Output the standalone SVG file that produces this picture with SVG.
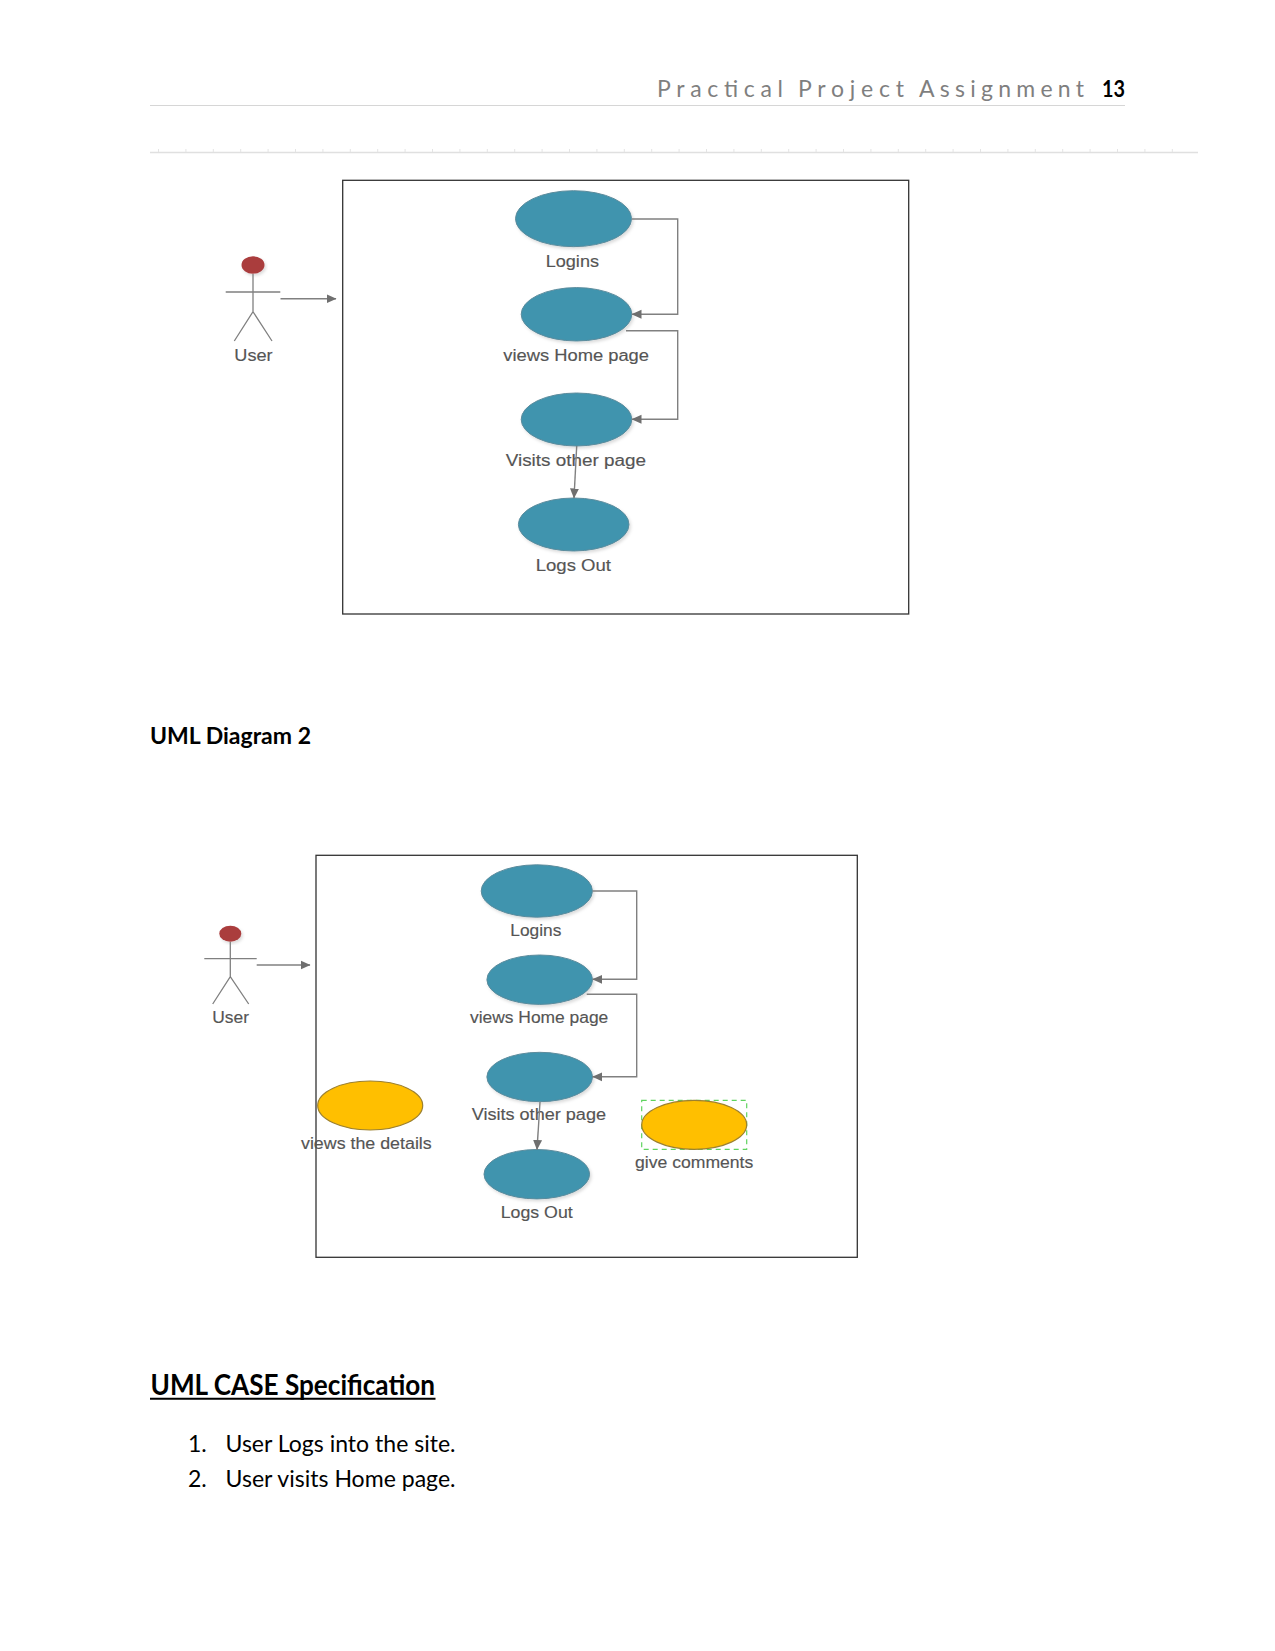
<svg xmlns="http://www.w3.org/2000/svg" width="1275" height="1651" viewBox="0 0 1275 1651">
  <style>
    .page { font-family: "Lato", "Liberation Sans", sans-serif; fill: #000; }
    .bold { font-weight: 700; }
    .head-text { fill: #7f7f7f; font-size: 23px; }
    .lbl { font-family: "Liberation Sans", Arial, sans-serif; font-size: 16px; fill: #555; stroke: #555; stroke-width: 0.15; }
    .frame { fill: #fff; stroke: #333; stroke-width: 1.3; }
    .uc { fill: #3f94ae; stroke: #5b8b9c; stroke-width: 1; filter: url(#soft); }
    .uy { fill: #ffbf00; stroke: #9c8030; stroke-width: 1.2; }
    .head { fill: #aa3c3e; filter: url(#soft); }
    .stick { fill: none; stroke: #808080; stroke-width: 1.3; }
    .wire { fill: none; stroke: #808080; stroke-width: 1.4; marker-end: url(#tip); }
    .rule { stroke: #d6d6d6; stroke-width: 1.2; }
  </style>
  <defs>
    <marker id="tip" markerUnits="userSpaceOnUse" markerWidth="11" markerHeight="10" refX="9.5" refY="5" orient="auto">
      <path d="M0 0.5 L10 5 L0 9.5 Z" fill="#6f6f6f"/>
    </marker>
    <filter id="soft" x="-10%" y="-10%" width="125%" height="130%">
      <feDropShadow dx="1.5" dy="2" stdDeviation="1.5" flood-color="#000" flood-opacity="0.14"/>
    </filter>
  </defs>
  <rect width="1275" height="1651" fill="#fff"/>

  <!-- running header -->
  <g id="page-header">
    <text class="page head-text" x="657" y="97" textLength="126">Practical</text>
    <text class="page head-text" x="798" y="97" textLength="106">Project</text>
    <text class="page head-text" x="919" y="97" textLength="165">Assignment</text>
    <text class="page bold" x="1102" y="97" font-size="23" textLength="23" lengthAdjust="spacingAndGlyphs">13</text>
    <line class="rule" x1="150" y1="105.5" x2="1125" y2="105.5"/>
    <line x1="150" y1="152.5" x2="1198" y2="152.5" stroke="#e0e0e0" stroke-width="1.4"/>
    <line x1="158" y1="150.5" x2="1198" y2="150.5" stroke="#e4e4e4" stroke-width="3" stroke-dasharray="1 26.4"/>
  </g>

  <!-- first use case diagram -->
  <g id="diagram-1">
    <rect id="d1-frame" class="frame" x="342.7" y="180.3" width="566" height="433.7"/>
    <g id="d1-user">
      <ellipse class="head" cx="253" cy="265" rx="11.5" ry="8.7"/>
      <path class="stick" d="M253 274V311.7M225.7 292H280.3M234.3 341L253 311.7L272 341"/>
      <text class="lbl" x="234.3" y="360.7" textLength="38.3" lengthAdjust="spacingAndGlyphs">User</text>
    </g>
    <g id="d1-logins">
      <ellipse class="uc" cx="573.5" cy="218.7" rx="58" ry="28"/>
      <text class="lbl" x="545.7" y="266.7" textLength="53.3" lengthAdjust="spacingAndGlyphs">Logins</text>
    </g>
    <g id="d1-home">
      <ellipse class="uc" cx="576.5" cy="314.3" rx="55.3" ry="26.7"/>
      <text class="lbl" x="503.3" y="360.7" textLength="145.7" lengthAdjust="spacingAndGlyphs">views Home page</text>
    </g>
    <g id="d1-visits">
      <ellipse class="uc" cx="576.5" cy="419.5" rx="55.3" ry="26.5"/>
      <text class="lbl" x="505.7" y="465.7" textLength="140.3" lengthAdjust="spacingAndGlyphs">Visits other page</text>
    </g>
    <g id="d1-logout">
      <ellipse class="uc" cx="573.7" cy="524.5" rx="55.3" ry="26.5"/>
      <text class="lbl" x="535.7" y="571" textLength="75.3" lengthAdjust="spacingAndGlyphs">Logs Out</text>
    </g>
    <g id="d1-connectors">
      <path class="wire" d="M280.5 298.7H336"/>
      <path class="wire" d="M632 219H677.7V314.3H632"/>
      <path class="wire" d="M626 330.7H677.7V419.3H632"/>
      <path class="wire" d="M576.7 446L574 498"/>
    </g>
  </g>

  <text id="title-diagram-2" class="page bold" x="150" y="744" font-size="23" textLength="161" lengthAdjust="spacingAndGlyphs">UML Diagram 2</text>

  <!-- second use case diagram -->
  <g id="diagram-2">
    <rect id="d2-frame" class="frame" x="316" y="855.3" width="541.3" height="402"/>
    <g id="d2-user">
      <ellipse class="head" cx="230.3" cy="933.7" rx="11" ry="8"/>
      <path class="stick" d="M230.3 942V976.7M204.3 958.7H256.7M212.7 1004L230.3 976.7L248.7 1004"/>
      <text class="lbl" x="212.3" y="1022.7" textLength="36.7" lengthAdjust="spacingAndGlyphs">User</text>
    </g>
    <g id="d2-logins">
      <ellipse class="uc" cx="536.8" cy="891" rx="55.6" ry="26.2"/>
      <text class="lbl" x="510.3" y="935.7" textLength="51" lengthAdjust="spacingAndGlyphs">Logins</text>
    </g>
    <g id="d2-home">
      <ellipse class="uc" cx="539.7" cy="979.7" rx="52.8" ry="24.7"/>
      <text class="lbl" x="470" y="1022.7" textLength="138.3" lengthAdjust="spacingAndGlyphs">views Home page</text>
    </g>
    <g id="d2-visits">
      <ellipse class="uc" cx="539.7" cy="1077" rx="52.8" ry="24.7"/>
      <text class="lbl" x="471.7" y="1120.4" textLength="134.3" lengthAdjust="spacingAndGlyphs">Visits other page</text>
    </g>
    <g id="d2-logout">
      <ellipse class="uc" cx="536.8" cy="1174.2" rx="52.8" ry="24.7"/>
      <text class="lbl" x="500.7" y="1217.7" textLength="72" lengthAdjust="spacingAndGlyphs">Logs Out</text>
    </g>
    <g id="d2-details">
      <ellipse class="uy" cx="370.2" cy="1105.5" rx="52.5" ry="24.5"/>
      <text class="lbl" x="301" y="1148.7" textLength="130.7" lengthAdjust="spacingAndGlyphs">views the details</text>
    </g>
    <g id="d2-comments">
      <rect x="641.7" y="1100.3" width="105" height="49" fill="none" stroke="#5fd35f" stroke-width="1.2" stroke-dasharray="5 4"/>
      <ellipse class="uy" cx="694.2" cy="1124.8" rx="52.5" ry="24.5"/>
      <text class="lbl" x="635" y="1167.7" textLength="118.3" lengthAdjust="spacingAndGlyphs">give comments</text>
    </g>
    <g id="d2-connectors">
      <path class="wire" d="M256.7 965H310"/>
      <path class="wire" d="M592.7 891H636.7V979.3H592.7"/>
      <path class="wire" d="M586.7 994.3H636.7V1076.8H592.7"/>
      <path class="wire" d="M540 1102L537 1149.5"/>
    </g>
  </g>

  <!-- specification list -->
  <g id="specification">
    <text class="page bold" x="150.5" y="1395" font-size="29" textLength="284.5" lengthAdjust="spacingAndGlyphs">UML CASE Specification</text>
    <line x1="150" y1="1398.7" x2="435.5" y2="1398.7" stroke="#000" stroke-width="2"/>
    <text class="page" x="188" y="1451.7" font-size="23">1.</text>
    <text class="page" x="225.5" y="1451.7" font-size="23" textLength="230" lengthAdjust="spacingAndGlyphs">User Logs into the site.</text>
    <text class="page" x="188" y="1486.7" font-size="23">2.</text>
    <text class="page" x="225.5" y="1486.7" font-size="23" textLength="230" lengthAdjust="spacingAndGlyphs">User visits Home page.</text>
  </g>
</svg>
